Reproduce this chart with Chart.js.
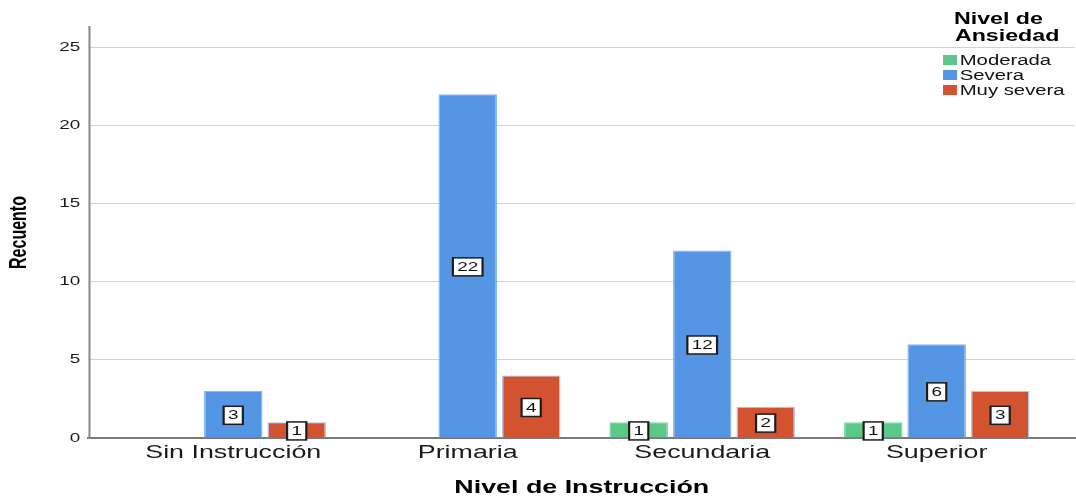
<!DOCTYPE html>
<html><head><meta charset="utf-8">
<script src="https://cdn.jsdelivr.net/npm/chart.js@4.4.0/dist/chart.umd.min.js"></script>
<style>html,body{margin:0;padding:0;background:#fff;overflow:hidden}canvas{display:block}</style>
</head><body>
<canvas id="c" width="742" height="497"></canvas>
<script>
const categories = ['Sin Instrucción', 'Primaria', 'Secundaria', 'Superior'];
const seriesNames = ['Moderada', 'Severa', 'Muy severa'];
const moderada = [null, null, 1, 1];
const severa = [3, 22, 12, 6];
const muySevera = [1, 4, 2, 3];
const yTicks = [0, 5, 10, 15, 20, 25];
const seriesColors = ['#5bc88a', '#5596e4', '#d2532f'];
const seriesBorders = ['#7fd6a3', '#8bb8ef', '#b7c3ea'];
const legendTitle = ['Nivel de', 'Ansiedad'];
const xTitle = 'Nivel de Instrucción';
const yTitle = 'Recuento';

const W = 1076, H = 497, LW = 742, SX = W / LW;
const FONT = "'Liberation Sans', Arial, sans-serif";
Chart.defaults.font.family = FONT;

const seriesValues = [moderada, severa, muySevera];
const datasets = seriesValues.map((arr, k) => ({
  label: seriesNames[k],
  data: arr.map((v, i) => ({ x: i, y: v })),
  backgroundColor: seriesColors[k],
  borderColor: seriesBorders[k],
  borderWidth: 1,
  categoryPercentage: 0.812,
  barPercentage: 0.923
}));

const valueLabels = {
  id: 'valueLabels',
  afterDatasetsDraw(chart) {
    const ctx = chart.ctx;
    ctx.save();
    ctx.font = '13px ' + FONT;
    ctx.textAlign = 'center';
    ctx.textBaseline = 'middle';
    chart.data.datasets.forEach((ds, k) => {
      const meta = chart.getDatasetMeta(k);
      meta.data.forEach((bar, i) => {
        const v = ds.data[i].y;
        if (v === null || v === undefined) return;
        const t = String(v);
        const w = ctx.measureText(t).width + 6;
        const h = 18;
        const cx = bar.x, cy = (bar.y + bar.base) / 2 + 1;
        ctx.fillStyle = '#ffffff';
        ctx.fillRect(cx - w / 2, cy - h / 2, w, h);
        ctx.strokeStyle = '#1c1c1c';
        ctx.lineWidth = 1.5;
        ctx.strokeRect(cx - w / 2, cy - h / 2, w, h);
        ctx.fillStyle = '#111';
        ctx.fillText(t, cx, cy + 0.5);
      });
    });
    ctx.restore();
  }
};

const customLegend = {
  id: 'customLegend',
  afterDraw(chart) {
    const ctx = chart.ctx;
    ctx.save();
    ctx.fillStyle = '#000';
    ctx.textAlign = 'center';
    ctx.textBaseline = 'middle';
    ctx.font = 'bold 16px ' + FONT;
    ctx.fillText(legendTitle[0], 688.5, 19.5);
    ctx.fillText(legendTitle[1], 694.5, 37);
    ctx.textAlign = 'left';
    ctx.font = '14px ' + FONT;
    seriesNames.forEach((n, k) => {
      const y = 60 + k * 15;
      ctx.fillStyle = seriesColors[k];
      ctx.fillRect(650.3, y - 5, 9.7, 10);
      ctx.fillStyle = '#111';
      ctx.fillText(n, 661.8, y + 1);
    });
    ctx.restore();
  }
};

const canvas = document.getElementById('c');
const chart = new Chart(canvas, {
  type: 'bar',
  data: { datasets },
  options: {
    responsive: false,
    animation: false,
    devicePixelRatio: 1,
    layout: { padding: { top: 27, right: 1, left: 0, bottom: 0 } },
    plugins: { legend: { display: false }, tooltip: { enabled: false } },
    scales: {
      x: {
        type: 'linear',
        offset: false,
        min: -0.615,
        max: 3.588,
        grid: { display: false, drawTicks: false, offset: false },
        border: { display: true, color: '#7a7a7a', width: 2 },
        afterBuildTicks: s => { s.ticks = categories.map((c, i) => ({ value: i })); },
        afterFit: s => { s.height = 59; },
        ticks: {
          autoSkip: false, maxRotation: 0, minRotation: 0, padding: 4,
          color: '#1a1a1a', font: { size: 18.5 },
          callback: v => categories[v]
        },
        title: { display: true, text: xTitle, color: '#000', font: { size: 18.5, weight: 'bold' }, padding: { top: 0, bottom: -2 } }
      },
      y: {
        min: 0,
        max: 26.3,
        grid: { color: '#d2d2d2', lineWidth: 1, drawTicks: false },
        border: { display: true, color: '#8a8a8a', width: 1.4 },
        afterBuildTicks: s => { s.ticks = yTicks.map(v => ({ value: v })); },
        afterFit: s => { s.width = 61.4; },
        ticks: { padding: 6, color: '#1a1a1a', font: { size: 13 } },
        title: { display: true, text: yTitle, color: '#000', font: { size: 16, weight: 'bold' }, padding: { top: 4, bottom: 4 } }
      }
    }
  },
  plugins: [valueLabels, customLegend]
});

canvas.width = W;
canvas.height = H;
canvas.style.width = W + 'px';
canvas.style.height = H + 'px';
chart.ctx.setTransform(SX, 0, 0, 1, 0, 0);
chart.draw();
</script>
</body></html>
